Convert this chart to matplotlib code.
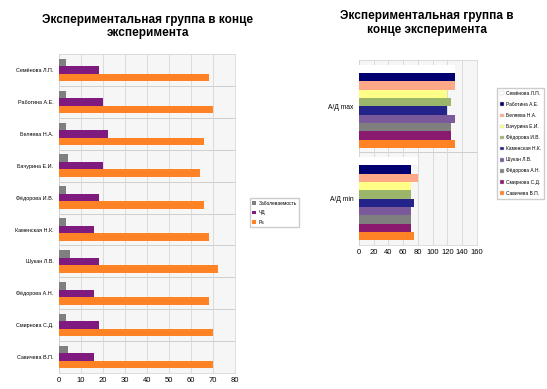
import numpy as np
import matplotlib.pyplot as plt

plt.rcParams['font.family'] = ['Liberation Sans', 'DejaVu Sans']

# левая диаграмма
names = ["Семёнова Л.П.", "Работина А.Е.", "Беляева Н.А.", "Бачурина Е.И.",
         "Фёдорова И.В.", "Каменская Н.К.", "Шукан Л.В.", "Фёдорова А.Н.",
         "Смирнова С.Д.", "Савичева В.П."]
zabol = [3, 3, 3, 4, 3, 3, 5, 3, 3, 4]
chd = [18, 20, 22, 20, 18, 16, 18, 16, 18, 16]
ps = [68, 70, 66, 64, 66, 68, 72, 68, 70, 70]
left_series = ["Заболеваемость", "ЧД", "Рs"]
left_colors = ["#7f7f7f", "#7f1a7f", "#ff8224"]

# правая диаграмма
ad_cats = ["А/Д max", "А/Д min"]
ad_max = [130, 130, 130, 120, 125, 120, 130, 125, 125, 130]
ad_min = [80, 70, 80, 70, 70, 75, 70, 70, 70, 75]
right_colors = ["#ffffff", "#000070", "#ffa888", "#ffff88", "#9bb56a",
                "#23238a", "#7a5a9a", "#7f7f7f", "#8a1a6e", "#ff8224"]

fig = plt.figure(figsize=(5.47, 3.89), dpi=100)

# ---- левая ----
ax = fig.add_axes([0.108, 0.041, 0.322, 0.82])
ax.set_facecolor("#f6f6f6")
y = np.arange(len(names))
h = 0.235
for i, (vals, lab, c) in enumerate(zip([zabol, chd, ps], left_series, left_colors)):
    ax.barh(y - h + i * h, vals, height=h, color=c, label=lab, zorder=3)
ax.set_xlim(0, 80)
ax.set_ylim(len(names) - 0.5, -0.5)
ax.set_xticks(range(0, 81, 10))
ax.set_yticks(y)
ax.set_yticklabels(names, fontsize=3.9)
ax.tick_params(axis="x", labelsize=5.5, length=0, pad=3)
ax.tick_params(axis="y", length=0, pad=4)
ax.grid(axis="x", color="#d6d6d6", lw=0.6, zorder=0)
for b in np.arange(0.5, len(names) - 1, 1):
    ax.axhline(b, color="#c8c8c8", lw=0.6, zorder=1)
for s in ax.spines.values():
    s.set_color("#d0d0d0")
    s.set_linewidth(0.5)
fig.text(0.27, 0.965, "Экспериментальная группа в конце\nэксперимента",
         ha="center", va="top", fontsize=8.5, fontweight="bold", linespacing=1.15)
fig.legend(*ax.get_legend_handles_labels(), loc="upper left",
           bbox_to_anchor=(0.452, 0.496), fontsize=3.5, frameon=True,
           fancybox=False, edgecolor="#c0c0c0", handlelength=0.8,
           handleheight=0.8, borderpad=0.5, labelspacing=0.9, handletextpad=0.5)

# ---- правая ----
ax2 = fig.add_axes([0.656, 0.37, 0.216, 0.476])
ax2.set_facecolor("#f6f6f6")
n = len(names)
bh = 0.9 / n
yc = np.arange(len(ad_cats))
for k in range(n):
    vals = [ad_max[k], ad_min[k]]
    ax2.barh(yc - 0.45 + bh * (k + 0.5), vals, height=bh, color=right_colors[k],
             edgecolor="none", label=names[k], zorder=3)
ax2.set_xlim(0, 160)
ax2.set_ylim(1.5, -0.5)
ax2.set_xticks(range(0, 161, 20))
ax2.set_yticks(yc)
ax2.set_yticklabels(ad_cats, fontsize=4.8)
ax2.tick_params(axis="x", labelsize=5.5, length=0, pad=3)
ax2.tick_params(axis="y", length=0, pad=4)
ax2.grid(axis="x", color="#d6d6d6", lw=0.6, zorder=0)
ax2.axhline(0.5, color="#c8c8c8", lw=0.6, zorder=1)
for s in ax2.spines.values():
    s.set_color("#d0d0d0")
    s.set_linewidth(0.5)
fig.text(0.78, 0.975, "Экспериментальная группа в\nконце эксперимента",
         ha="center", va="top", fontsize=8.5, fontweight="bold", linespacing=1.2)
hl, ll = ax2.get_legend_handles_labels()
leg = fig.legend(hl, ll, loc="upper left", bbox_to_anchor=(0.905, 0.78),
                 fontsize=3.5, frameon=True, fancybox=False, edgecolor="#c0c0c0",
                 handlelength=0.8, handleheight=0.8, borderpad=0.6,
                 labelspacing=1.25, handletextpad=0.4)
for p in leg.get_patches():
    p.set_edgecolor("#d0d0d0")
    p.set_linewidth(0.3)

fig.savefig("out.png", dpi=100)
